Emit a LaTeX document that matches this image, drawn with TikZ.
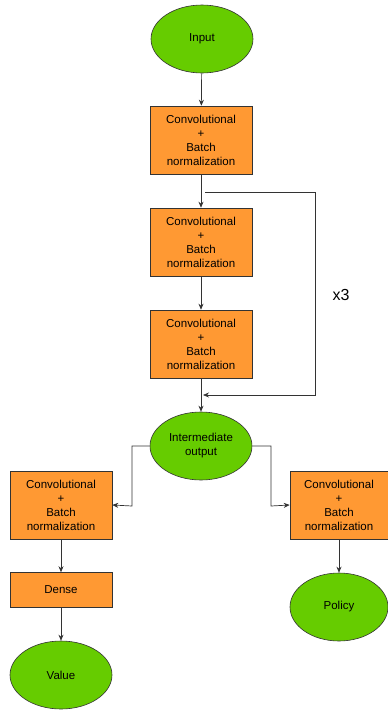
\documentclass[tikz,border=0pt]{standalone}
\usepackage{fontspec}
\setmainfont{Liberation Sans}
\usetikzlibrary{shapes.geometric,arrows.meta}
\definecolor{nodegreen}{HTML}{66CC00}
\definecolor{nodeorange}{HTML}{FF9933}
\definecolor{edgegray}{HTML}{333333}
\begin{document}
\begin{tikzpicture}[x=1pt,y=-1pt,
  every node/.style={font=\fontsize{11.5}{14}\selectfont, align=center, text=black},
  term/.style={ellipse, draw=edgegray, line width=0.6pt, fill=nodegreen, minimum width=102pt, minimum height=68pt, inner sep=0pt},
  layerbox/.style={rectangle, draw=edgegray, line width=0.6pt, fill=nodeorange, minimum width=102pt, minimum height=68pt, inner sep=0pt},
  flow/.style={draw=edgegray, line width=0.7pt, -{Stealth[length=6pt,width=5pt]}}
]
\useasboundingbox (0,0) rectangle (388,710);
\node[term] (input) at (202,39) {Input};
\node[layerbox] (c1) at (201,140) {Convolutional\\+\\Batch\\normalization};
\node[layerbox] (c2) at (201,242) {Convolutional\\+\\Batch\\normalization};
\node[layerbox] (c3) at (201,344) {Convolutional\\+\\Batch\\normalization};
\node[term] (mid) at (201,446) {Intermediate\\output};
\node[layerbox] (cl) at (61,505) {Convolutional\\+\\Batch\\normalization};
\node[layerbox, minimum width=98pt] (cr) at (339,505) {Convolutional\\+\\Batch\\normalization};
\node[layerbox, minimum height=35pt] (dense) at (61,590) {Dense};
\node[term] (value) at (61,675) {Value};
\node[term, minimum width=98pt] (policy) at (339,607) {Policy};
\node[font=\fontsize{16}{18}\selectfont] (x3) at (341,295) {x3};

\draw[flow] (input) -- (c1);
\draw[flow] (c1) -- (c2);
\draw[flow] (c2) -- (c3);
\draw[flow] (c3) -- (mid);
\coordinate (ls) at (205,192);
\coordinate (lr) at (315,395);
\coordinate (le) at (203,395);
\draw[flow] (ls) -| (lr) -- (le);
\coordinate (ml) at (132,506);
\coordinate (mr) at (271,506);
\draw[flow] (mid.west) -| (ml) -- (cl.east);
\draw[flow] (mid.east) -| (mr) -- (cr.west);
\draw[flow] (cl) -- (dense);
\draw[flow] (dense) -- (value);
\draw[flow] (cr) -- (policy);
\end{tikzpicture}
\end{document}
